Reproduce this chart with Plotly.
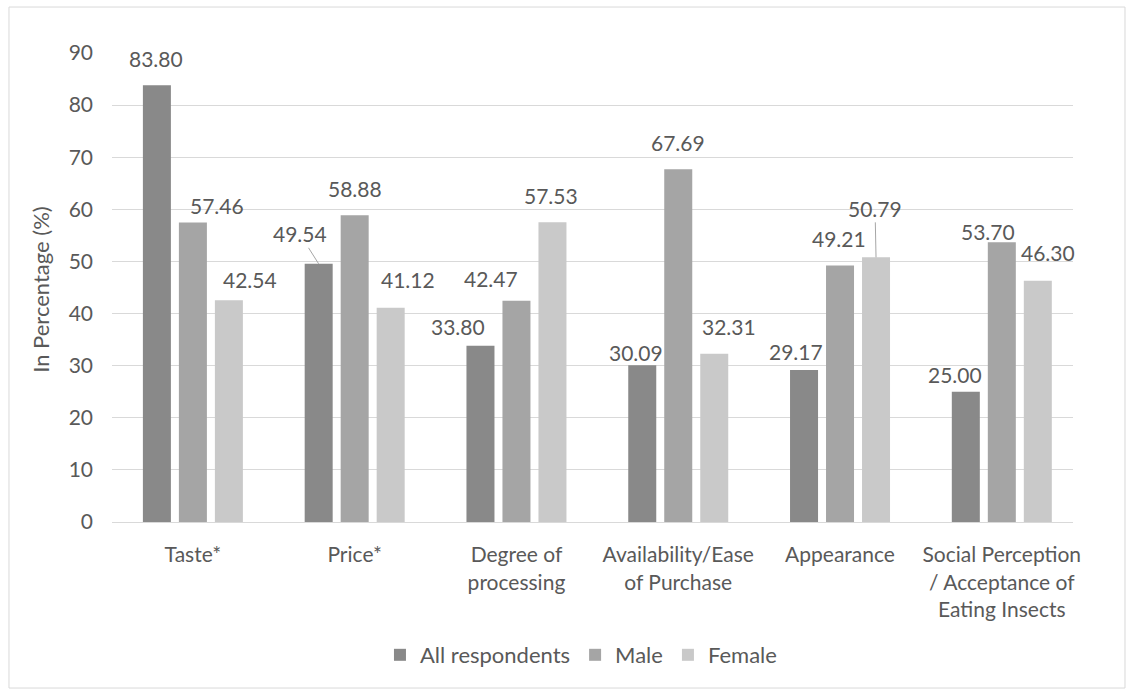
import plotly.graph_objects as go

# Survey results: share of respondents naming each factor (%)
categories = [
    "Taste*",
    "Price*",
    "Degree of<br>processing",
    "Availability/Ease<br>of Purchase",
    "Appearance",
    "Social Perception<br>/ Acceptance of<br>Eating Insects",
]
series_names = ["All respondents", "Male", "Female"]
all_respondents = [83.80, 49.54, 33.80, 30.09, 29.17, 25.00]
male = [57.46, 58.88, 42.47, 67.69, 49.21, 53.70]
female = [42.54, 41.12, 57.53, 32.31, 50.79, 46.30]
y_ticks = [0, 10, 20, 30, 40, 50, 60, 70, 80, 90]

series_values = [all_respondents, male, female]
colors = ["#898989", "#a5a5a5", "#c9c9c9"]

TEXT = "#595959"
GRID = "#d9d9d9"
FONT = "Lato"

# pixel offsets of each value label from the top centre of its bar (dx, dy)
label_offsets = [
    [(-1, -27), (0, -30), (-22, -19), (-6, -13), (-8, -18), (-11, -17)],
    [(24, -17), (0, -27), (-25, -22), (0, -27), (-1, -27), (-14, -11)],
    [(21, -21), (17, -28), (-1, -27), (15, -27), (-1, -49), (10, -28)],
]
# labels joined to their bar by a leader line: (series, category)
leader_labels = {(0, 1): (-19, -30), (2, 4): (-1, -49)}
SLOT_PX = 36  # distance between neighbouring bars of a group

fig = go.Figure()
for name, vals, col in zip(series_names, series_values, colors):
    fig.add_trace(go.Bar(
        name=name, x=categories, y=vals,
        marker=dict(color=col, line=dict(width=0)),
        hoverinfo="x+y",
    ))

annotations = []
for s, vals in enumerate(series_values):
    shift = (s - 1) * SLOT_PX
    for c, v in enumerate(vals):
        txt = f"{v:.2f}"
        if (s, c) in leader_labels:
            ax, ay = leader_labels[(s, c)]
            annotations.append(dict(
                x=categories[c], y=v, xref="x", yref="y", text=txt,
                xshift=shift, showarrow=True, arrowhead=0, arrowwidth=1,
                arrowcolor="#a6a6a6", ax=ax, ay=ay, standoff=0,
                font=dict(family=FONT, size=21, color=TEXT),
            ))
        else:
            dx, dy = label_offsets[s][c]
            annotations.append(dict(
                x=categories[c], y=v, xref="x", yref="y", text=txt,
                xshift=shift + dx, yshift=-dy, showarrow=False,
                xanchor="center", yanchor="middle",
                font=dict(family=FONT, size=21, color=TEXT),
            ))

annotations.append(dict(
    x=-0.0739, y=0.495, xref="paper", yref="paper", text="In Percentage (%)",
    textangle=-90, showarrow=False, xanchor="center", yanchor="middle",
    font=dict(family=FONT, size=22, color=TEXT),
))

fig.update_layout(
    width=1134, height=695, autosize=False,
    margin=dict(l=112, r=61, t=53, b=173),
    paper_bgcolor="white", plot_bgcolor="white",
    barmode="group", bargap=0.3325, bargroupgap=0.222,
    font=dict(family=FONT, color=TEXT),
    showlegend=True,
    legend=dict(
        orientation="h", x=0.488, y=-0.2836, xanchor="center", yanchor="middle",
        font=dict(family=FONT, size=22, color=TEXT),
        itemwidth=30, bgcolor="rgba(0,0,0,0)",
    ),
    annotations=annotations,
    shapes=[dict(
        type="rect", xref="paper", yref="paper",
        x0=-0.1072, x1=1.0541, y0=-0.354, y1=1.098,
        line=dict(color=GRID, width=1), fillcolor="rgba(0,0,0,0)", layer="below",
    )],
)
fig.update_xaxes(
    range=[-0.5, 5.44], showgrid=False, showline=True, linecolor=GRID, linewidth=1,
    ticks="", ticklabelstandoff=14, tickfont=dict(family=FONT, size=21, color=TEXT),
    fixedrange=True,
)
fig.update_yaxes(
    range=[0, 90], tickvals=y_ticks, showgrid=True, gridcolor=GRID, gridwidth=1,
    zeroline=False, showline=False, ticks="", ticklabelstandoff=18,
    tickfont=dict(family=FONT, size=21, color=TEXT), fixedrange=True,
)

fig.write_html("out.html")
